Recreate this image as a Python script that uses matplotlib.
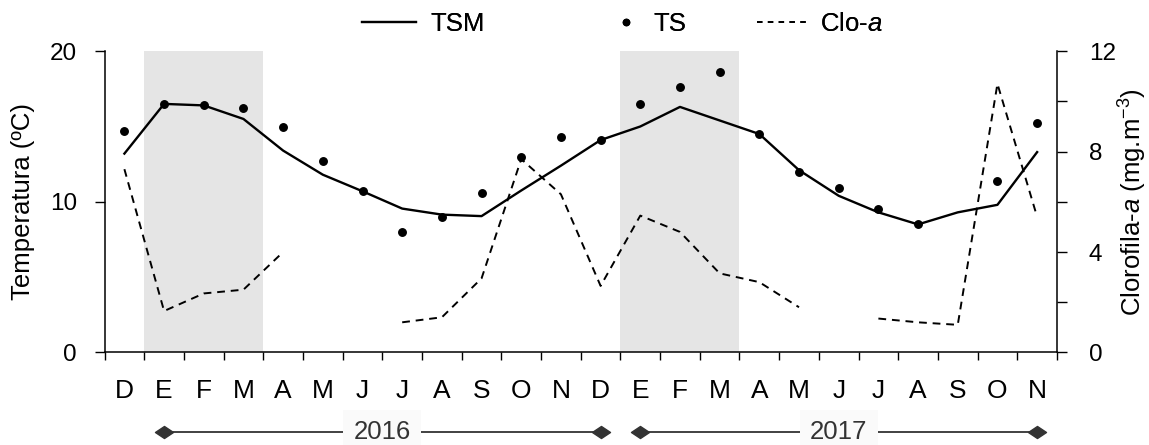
import numpy as np
import matplotlib.pyplot as plt
import matplotlib.transforms as mtransforms
from matplotlib.path import Path
from matplotlib.lines import Line2D

plt.rcParams['font.family'] = ['Liberation Sans', 'DejaVu Sans']
plt.rcParams['mathtext.fontset'] = 'custom'
plt.rcParams['mathtext.rm'] = 'Liberation Sans'
plt.rcParams['mathtext.it'] = 'Liberation Sans:italic'

nan = np.nan

# ------------------ DATA -----------------------------------------
months = ['D', 'E', 'F', 'M', 'A', 'M', 'J', 'J', 'A', 'S', 'O', 'N',
          'D', 'E', 'F', 'M', 'A', 'M', 'J', 'J', 'A', 'S', 'O', 'N']

# sea surface temperature, monthly mean (TSM) and sampled (TS), in ºC
tsm = [13.2, 16.5, 16.4, 15.5, 13.4, 11.8, 10.7, 9.55, 9.15, 9.05, 10.75, 12.4,
       14.1, 15.0, 16.3, 15.4, 14.5, 12.1, 10.4, 9.3, 8.5, 9.3, 9.8, 13.3]
ts = [14.7, 16.5, 16.4, 16.25, 14.95, 12.7, 10.7, 8.0, 9.0, 10.6, 13.0, 14.3,
      14.1, 16.5, 17.6, 18.6, 14.5, 12.0, 10.9, 9.5, 8.5, nan, 11.4, 15.2]

# chlorophyll-a, mg.m-3
clo = [7.3, 1.65, 2.35, 2.5, 4.0, nan, nan, 1.2, 1.4, 2.95, 7.7, 6.3,
       2.65, 5.45, 4.8, 3.15, 2.8, 1.8, nan, 1.35, 1.2, 1.1, 10.7, 5.4]

# summer (E-M) shading: first month index and number of months
summer_start = [1, 13]
summer_len = 3

years = ['2016', '2017']
year_first = [1, 13]
year_last = [12, 23]
# -----------------------------------------------------------------

x = np.arange(len(months)) + 0.5

fig = plt.figure(figsize=(11.49, 4.45), dpi=100)
ax = fig.add_axes([0.091, 0.208, 0.8289, 0.677])
ax2 = ax.twinx()

for s in summer_start:
    ax.axvspan(s, s + summer_len, color='#e5e5e5', lw=0, zorder=0)

ax.plot(x, tsm, color='black', lw=1.7, zorder=3)
ax.plot(x, ts, 'o', color='black', ms=5.4, zorder=4)
ax2.plot(x, clo, color='black', lw=1.4, dashes=(4, 3), zorder=3)

ax.set_xlim(0, len(months))
ax.set_ylim(0, 20)
ax2.set_ylim(0, 12)

# month boundaries as ticks, month names centred between them
ax.set_xticks(np.arange(len(months) + 1))
ax.set_xticklabels([])
ax.set_xticks(x, minor=True)
ax.set_xticklabels(months, minor=True, fontsize=19)
ax.tick_params(axis='x', which='major', direction='out', length=6, width=1)
ax.tick_params(axis='x', which='minor', length=0, pad=19)

ax.set_yticks([0, 10, 20])
ax.tick_params(axis='y', direction='out', length=7, width=1, labelsize=17.5, pad=13)
ax2.set_yticks(np.arange(0, 13, 2))
ax2.set_yticklabels(['0', '', '4', '', '8', '', '12'])
ax2.tick_params(axis='y', direction='out', length=7, width=1, labelsize=17.5, pad=16)

for a in (ax, ax2):
    a.spines['top'].set_visible(False)
    for sp in a.spines.values():
        sp.set_linewidth(1.1)
ax.spines['right'].set_visible(False)
ax2.spines['left'].set_visible(False)
ax2.spines['bottom'].set_visible(False)
ax.set_zorder(ax2.get_zorder() - 1)
ax.patch.set_visible(False)

ax.set_ylabel('Temperatura (ºC)', fontsize=18.5, va='center')
ax.yaxis.set_label_coords(-0.0856, 0.5)
ax2.set_ylabel('Clorofila-$a$ (mg.m$^{-3}$)', fontsize=18.5, va='center', rotation=90)
ax2.yaxis.set_label_coords(1.0795, 0.5)

# legend above the plot, one entry per block so each sits where wanted
handles = [Line2D([], [], color='black', lw=1.6),
           Line2D([], [], ls='none', marker='o', color='black', ms=4.5),
           Line2D([], [], color='black', lw=1.3, dashes=(3, 3))]
labels = ['TSM', 'TS', 'Clo-$a$']
legend_x = [0.315, 0.534, 0.659]
legend_len = [2.1, 1.0, 1.9]
for h, lab, lx, hl in zip(handles, labels, legend_x, legend_len):
    leg = fig.legend([h], [lab], loc='center left', bbox_to_anchor=(lx, 0.946),
                     frameon=False, fontsize=18.5, handlelength=hl,
                     handletextpad=0.55, borderpad=0, borderaxespad=0)
    fig.add_artist(leg)

# year brackets under the month labels
trans = mtransforms.blended_transform_factory(ax.transData, ax.transAxes)
diamond = Path([(-1.5, 0), (0, 1), (1.5, 0), (0, -1), (-1.5, 0)],
               [Path.MOVETO, Path.LINETO, Path.LINETO, Path.LINETO, Path.CLOSEPOLY])
yb = -0.265
for yr, a, b in zip(years, year_first, year_last):
    ax.plot([x[a], x[b]], [yb, yb], color='#333333', lw=1.3, transform=trans,
            clip_on=False, marker=diamond, ms=13, zorder=5)
    ax.text((x[a] + x[b]) / 2, yb, yr, transform=trans, ha='center', va='center',
            fontsize=18.5, color='#333333', zorder=6,
            bbox=dict(boxstyle='square,pad=0.4', fc='#fafafa', ec='none'))

fig.savefig('out.png', dpi=100)
